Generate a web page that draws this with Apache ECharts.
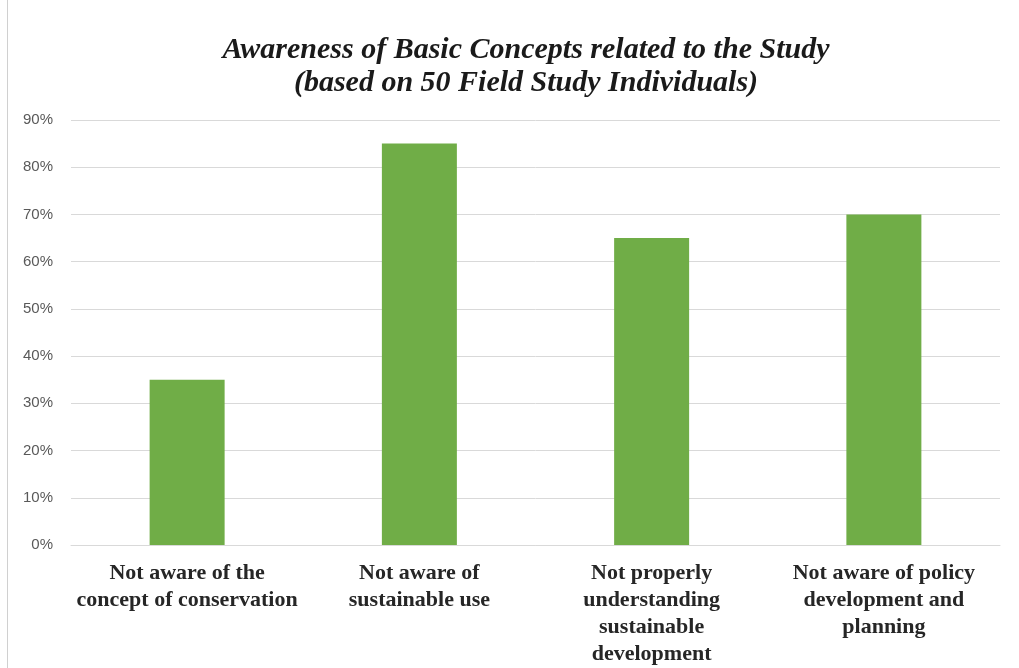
<!DOCTYPE html>
<html>
<head>
<meta charset="utf-8">
<script src="https://cdn.jsdelivr.net/npm/echarts@6/dist/echarts.min.js"></script>
<style>
  html, body { margin: 0; padding: 0; background: #fff; }
  #chart { width: 1019px; height: 668px; }
</style>
</head>
<body>
<div id="chart"></div>
<script>
var categories = [
  'Not aware of the\nconcept of conservation',
  'Not aware of\nsustainable use',
  'Not properly\nunderstanding\nsustainable\ndevelopment',
  'Not aware of policy\ndevelopment and\nplanning'
];
var shares = [35, 85, 65, 70];

var chart = echarts.init(document.getElementById('chart'), null, { renderer: 'canvas' });
chart.setOption({
  animation: false,
  title: {
    text: 'Awareness of Basic Concepts related to the Study\n(based on 50 Field Study Individuals)',
    left: 521,
    textAlign: 'center',
    top: 29,
    textStyle: {
      fontFamily: 'Liberation Serif',
      fontStyle: 'italic',
      fontWeight: 'bold',
      fontSize: 30,
      lineHeight: 33,
      color: '#1a1a1a'
    }
  },
  grid: { left: 71, right: 19, top: 120, bottom: 123 },
  xAxis: {
    type: 'category',
    data: categories,
    axisLine: { lineStyle: { color: '#d9d9d9', width: 1 } },
    axisTick: { show: false },
    axisLabel: {
      interval: 0,
      margin: 15,
      fontFamily: 'Liberation Serif',
      fontWeight: 'bold',
      fontSize: 22,
      lineHeight: 27,
      color: '#262626'
    }
  },
  yAxis: {
    type: 'value',
    min: 0,
    max: 90,
    interval: 10,
    axisLine: { show: false },
    axisTick: { show: false },
    axisLabel: {
      margin: 18,
      formatter: '{value}%',
      fontFamily: 'Liberation Sans',
      fontSize: 15,
      color: '#595959'
    },
    splitLine: { lineStyle: { color: '#d9d9d9', width: 1 } }
  },
  series: [{
    type: 'bar',
    data: shares,
    barWidth: 75,
    itemStyle: { color: '#70ad47' }
  }],
  graphic: [{
    type: 'line',
    shape: { x1: 7.5, y1: 0, x2: 7.5, y2: 668 },
    style: { stroke: '#d0d0d0', lineWidth: 1 }
  }]
});
window.addEventListener('resize', function() { chart.resize(); });
</script>
</body>
</html>
